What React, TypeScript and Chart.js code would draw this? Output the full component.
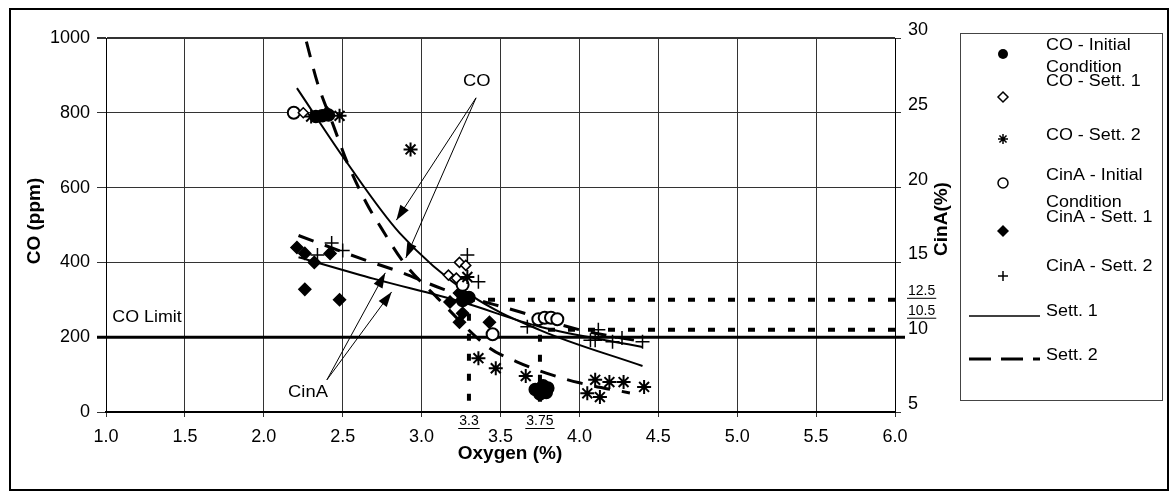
import React, { useEffect, useRef } from "react";
import { Chart, registerables } from "chart.js";

Chart.register(...registerables);

type P = [number, number];

// ---------- data (x = Oxygen %, y = CO ppm or CinA %) ----------
const coInitial: P[] = [[2.33, 790], [2.37, 792], [2.41, 794], [3.26, 298], [3.3, 306], [3.72, 60], [3.75, 48], [3.77, 70], [3.8, 64], [3.79, 52]];
const coSett1: P[] = [[2.25, 800], [3.17, 366], [3.22, 358], [3.24, 400], [3.28, 392]];
const coSett2: P[] = [[2.3, 790], [2.48, 792], [2.93, 702], [3.29, 361], [3.36, 144], [3.47, 117], [3.66, 96], [4.05, 50], [4.1, 86], [4.13, 40], [4.19, 80], [4.28, 80], [4.41, 67]];
const cinaInitial: P[] = [[2.19, 25.0], [3.26, 13.5], [3.45, 10.2], [3.74, 11.2], [3.78, 11.3], [3.82, 11.3], [3.86, 11.2]];
const cinaSett1: P[] = [[2.21, 16.0], [2.26, 15.6], [2.32, 15.0], [2.42, 15.6], [2.26, 13.2], [2.48, 12.5], [2.4, 25.0], [3.18, 12.35], [3.24, 12.95], [3.26, 11.6], [3.24, 11.0], [3.43, 11.0]];
const cinaSett2: P[] = [[2.34, 15.5], [2.43, 16.3], [2.5, 15.8], [3.29, 15.5], [3.36, 13.7], [3.67, 10.7], [4.07, 9.8], [4.1, 9.8], [4.12, 10.5], [4.21, 9.7], [4.27, 9.95], [4.4, 9.7]];

// trend curves
const coSett1Line: P[] = [[2.21, 866], [2.53, 665], [2.86, 479], [3.31, 313], [3.75, 219], [4.4, 123]];
const coSett2Line: P[] = [[2.27, 990], [2.34, 880], [2.44, 767], [2.53, 666], [2.65, 559], [2.74, 495], [2.89, 398], [3.1, 305], [3.43, 171], [3.6, 135], [3.79, 104], [4.0, 78], [4.32, 51]];
const cinaSett1Line: P[] = [[2.22, 15.35], [2.7, 13.9], [3.24, 12.4], [3.75, 10.7], [4.4, 9.35]];
const cinaSett2Line: P[] = [[2.22, 16.8], [2.63, 15.2], [2.88, 14.3], [3.14, 13.2], [3.62, 11.7], [4.0, 10.5], [4.4, 9.7]];

// reference guides
const coLimit = 200;
const guideOxygen = [3.3, 3.75];
const guideCinA = [12.5, 10.5];
const guideLabelsX = ["3.3", "3.75"];
const guideLabelsCinA = ["12.5", "10.5"];

// axes
const xMin = 1, xMax = 6, xStep = 0.5;
const coMin = 0, coMax = 1000, coStep = 200;
const cinaMin = 5, cinaMax = 30, cinaStep = 5;

// annotations (data coordinates)
const coNote = { text: "CO", at: [3.35, 885] as P, from: [3.345, 840] as P, tips: [[2.84, 513], [2.9, 412]] as P[] };
const cinaNote = { text: "CinA", at: [2.28, 53] as P, from: [2.4, 86] as P, tips: [[2.77, 372], [2.81, 321]] as P[] };
const coLimitNote = { text: "CO Limit", at: [1.04, 254] as P };

const legendItems = [
  { kind: "fcircle", lines: ["CO - Initial", "Condition"] },
  { kind: "odiamond", lines: ["CO - Sett. 1"] },
  { kind: "star", lines: ["CO - Sett. 2"] },
  { kind: "ocircle", lines: ["CinA - Initial", "Condition"] },
  { kind: "fdiamond", lines: ["CinA - Sett. 1"] },
  { kind: "plus", lines: ["CinA - Sett. 2"] },
  { kind: "solid", lines: ["Sett. 1"] },
  { kind: "dashed", lines: ["Sett. 2"] },
];

const FONT = '"Liberation Sans", Arial, sans-serif';
const pts = (a: P[]) => a.map(([x, y]) => ({ x, y }));

function arrow(ctx: CanvasRenderingContext2D, x0: number, y0: number, x1: number, y1: number) {
  ctx.beginPath();
  ctx.moveTo(x0, y0);
  ctx.lineTo(x1, y1);
  ctx.stroke();
  const a = Math.atan2(y1 - y0, x1 - x0);
  const len = 15, w = 5;
  const bx = x1 - len * Math.cos(a), by = y1 - len * Math.sin(a);
  ctx.beginPath();
  ctx.moveTo(x1, y1);
  ctx.lineTo(bx - w * Math.sin(a), by + w * Math.cos(a));
  ctx.lineTo(bx + w * Math.sin(a), by - w * Math.cos(a));
  ctx.closePath();
  ctx.fill();
}

function marker(ctx: CanvasRenderingContext2D, kind: string, x: number, y: number) {
  ctx.save();
  ctx.strokeStyle = "#000";
  ctx.fillStyle = "#000";
  ctx.lineWidth = 1.5;
  const r = 5;
  if (kind === "fcircle" || kind === "ocircle") {
    ctx.beginPath();
    ctx.arc(x, y, r, 0, Math.PI * 2);
    if (kind === "fcircle") ctx.fill(); else ctx.stroke();
  } else if (kind === "odiamond" || kind === "fdiamond") {
    const rr = kind === "fdiamond" ? 6 : 5;
    ctx.beginPath();
    ctx.moveTo(x, y - rr); ctx.lineTo(x + rr, y); ctx.lineTo(x, y + rr); ctx.lineTo(x - rr, y); ctx.closePath();
    if (kind === "fdiamond") ctx.fill(); else ctx.stroke();
  } else if (kind === "star") {
    ctx.beginPath();
    for (let i = 0; i < 4; i++) {
      const a = (i * Math.PI) / 4;
      ctx.moveTo(x - r * Math.cos(a), y - r * Math.sin(a));
      ctx.lineTo(x + r * Math.cos(a), y + r * Math.sin(a));
    }
    ctx.stroke();
  } else if (kind === "plus") {
    ctx.beginPath();
    ctx.moveTo(x - r, y); ctx.lineTo(x + r, y);
    ctx.moveTo(x, y - r); ctx.lineTo(x, y + r);
    ctx.stroke();
  }
  ctx.restore();
}

// text drawn slightly wider than tall, like the scanned original
function wideText(ctx: CanvasRenderingContext2D, s: string, x: number, y: number, sx: number) {
  ctx.save();
  ctx.translate(x, y);
  ctx.scale(sx, 1);
  ctx.fillText(s, 0, 0);
  ctx.restore();
}

const decor = {
  id: "decor",
  beforeDatasetsDraw(chart: any) {
    const { ctx, chartArea, scales } = chart;
    const yy = scales.y.getPixelForValue(coLimit);
    ctx.save();
    ctx.strokeStyle = "#000";
    ctx.lineWidth = 3;
    ctx.beginPath();
    ctx.moveTo(chartArea.left - 9, yy);
    ctx.lineTo(chartArea.right + 10, yy);
    ctx.stroke();
    ctx.restore();
  },
  afterDraw(chart: any) {
    const { ctx, chartArea, scales } = chart;
    const X = (v: number) => scales.x.getPixelForValue(v);
    const Y = (v: number) => scales.y.getPixelForValue(v);
    const Y1 = (v: number) => scales.y1.getPixelForValue(v);
    ctx.save();
    ctx.fillStyle = "#000";
    ctx.strokeStyle = "#000";

    // annotation texts & arrows
    ctx.font = `17px ${FONT}`;
    ctx.textAlign = "center";
    ctx.textBaseline = "middle";
    wideText(ctx, coNote.text, X(coNote.at[0]), Y(coNote.at[1]), 1.08);
    wideText(ctx, cinaNote.text, X(cinaNote.at[0]), Y(cinaNote.at[1]), 1.08);
    ctx.textAlign = "left";
    wideText(ctx, coLimitNote.text, X(coLimitNote.at[0]), Y(coLimitNote.at[1]), 1.05);
    ctx.lineWidth = 1;
    for (const t of coNote.tips) arrow(ctx, X(coNote.from[0]), Y(coNote.from[1]), X(t[0]), Y(t[1]));
    for (const t of cinaNote.tips) arrow(ctx, X(cinaNote.from[0]), Y(cinaNote.from[1]), X(t[0]), Y(t[1]));

    // underlined guide labels
    ctx.font = `14px ${FONT}`;
    ctx.textAlign = "center";
    guideLabelsX.forEach((s, i) => {
      const cx = X(guideOxygen[i]);
      const w = ctx.measureText(s).width;
      ctx.fillText(s, cx, chartArea.bottom + 9);
      ctx.fillRect(cx - w / 2 - 1, chartArea.bottom + 16, w + 2, 1);
    });
    ctx.textAlign = "left";
    const offs = [-9, -19];
    guideLabelsCinA.forEach((s, i) => {
      const cy = Y1(guideCinA[i]) + offs[i];
      const w = ctx.measureText(s).width;
      const lx = chartArea.right + 13;
      ctx.fillText(s, lx, cy);
      ctx.fillRect(lx - 1, cy + 7, w + 2, 1);
    });

    // axis titles
    ctx.font = `bold 19px ${FONT}`;
    ctx.textAlign = "center";
    ctx.fillText("Oxygen (%)", 510, 454);
    ctx.save();
    ctx.translate(35, 221);
    ctx.rotate(-Math.PI / 2);
    ctx.fillText("CO (ppm)", 0, 0);
    ctx.restore();
    ctx.save();
    ctx.translate(942, 219);
    ctx.rotate(-Math.PI / 2);
    ctx.fillText("CinA(%)", 0, 0);
    ctx.restore();

    // legend
    ctx.strokeStyle = "#444";
    ctx.lineWidth = 1;
    ctx.strokeRect(960.5, 33.5, 202, 367);
    const textY = [[46, 68], [82], [136], [176, 203], [218], [267], [312], [356]];
    const markY = [54, 97, 139, 183, 231, 276, 316, 359];
    ctx.font = `16px ${FONT}`;
    ctx.textAlign = "left";
    ctx.fillStyle = "#000";
    legendItems.forEach((it, i) => {
      it.lines.forEach((ln, j) => wideText(ctx, ln, 1046, textY[i][j], 1.12));
      const my = markY[i];
      if (it.kind === "solid" || it.kind === "dashed") {
        ctx.save();
        ctx.strokeStyle = "#000";
        ctx.lineWidth = it.kind === "solid" ? 1.5 : 3;
        if (it.kind === "dashed") ctx.setLineDash([22, 10]);
        ctx.beginPath();
        ctx.moveTo(969, my);
        ctx.lineTo(1040, my);
        ctx.stroke();
        ctx.restore();
      } else {
        marker(ctx, it.kind, 1003, my);
      }
    });

    // outer frame
    ctx.strokeStyle = "#000";
    ctx.lineWidth = 2;
    ctx.strokeRect(10, 9, 1158, 481);
    ctx.restore();
  },
};

export default function App() {
  const ref = useRef<HTMLCanvasElement | null>(null);

  useEffect(() => {
    if (!ref.current) return;
    Chart.defaults.font.family = FONT;
    Chart.defaults.font.size = 18;
    Chart.defaults.color = "#000";

    const markerBase = { showLine: false, borderColor: "#000", pointBorderWidth: 1.5 };
    const guideStyle = { showLine: true, pointRadius: 0, borderColor: "#000", borderWidth: 4, borderDash: [7, 13], tension: 0, yAxisID: "y1" };

    const chart = new Chart(ref.current, {
      type: "scatter",
      data: {
        datasets: [
          { ...markerBase, label: "CO - Initial Condition", data: pts(coInitial), yAxisID: "y", pointStyle: "circle", pointRadius: 6, backgroundColor: "#000" },
          { ...markerBase, label: "CO - Sett. 1", data: pts(coSett1), yAxisID: "y", pointStyle: "rectRot", pointRadius: 5, backgroundColor: "#fff" },
          { ...markerBase, label: "CO - Sett. 2", data: pts(coSett2), yAxisID: "y", pointStyle: "star", pointRadius: 7, pointBorderWidth: 2, backgroundColor: "#000" },
          { ...markerBase, label: "CinA - Initial Condition", data: pts(cinaInitial), yAxisID: "y1", pointStyle: "circle", pointRadius: 6, pointBorderWidth: 2, backgroundColor: "#fff" },
          { ...markerBase, label: "CinA - Sett. 1", data: pts(cinaSett1), yAxisID: "y1", pointStyle: "rectRot", pointRadius: 6, backgroundColor: "#000" },
          { ...markerBase, label: "CinA - Sett. 2", data: pts(cinaSett2), yAxisID: "y1", pointStyle: "cross", pointRadius: 7, backgroundColor: "#000" },
          { label: "CO Sett. 1", data: pts(coSett1Line), yAxisID: "y", showLine: true, pointRadius: 0, borderColor: "#000", borderWidth: 2, cubicInterpolationMode: "monotone" },
          { label: "CinA Sett. 1", data: pts(cinaSett1Line), yAxisID: "y1", showLine: true, pointRadius: 0, borderColor: "#000", borderWidth: 2, cubicInterpolationMode: "monotone" },
          { label: "CO Sett. 2", data: pts(coSett2Line), yAxisID: "y", showLine: true, pointRadius: 0, borderColor: "#000", borderWidth: 3, borderDash: [16, 12], cubicInterpolationMode: "monotone" },
          { label: "CinA Sett. 2", data: pts(cinaSett2Line), yAxisID: "y1", showLine: true, pointRadius: 0, borderColor: "#000", borderWidth: 3, borderDash: [16, 12], cubicInterpolationMode: "monotone" },
          { ...guideStyle, label: "guide 12.5", data: [{ x: xMax, y: guideCinA[0] }, { x: guideOxygen[0], y: guideCinA[0] }, { x: guideOxygen[0], y: cinaMin }] },
          { ...guideStyle, label: "guide 10.5", data: [{ x: xMax, y: guideCinA[1] }, { x: guideOxygen[1], y: guideCinA[1] }, { x: guideOxygen[1], y: cinaMin }] },
        ] as any,
      },
      options: {
        responsive: false,
        maintainAspectRatio: false,
        devicePixelRatio: 1,
        animation: false,
        events: [],
        layout: { padding: { top: 38, left: 0, right: 0, bottom: 0 } },
        plugins: { legend: { display: false }, tooltip: { enabled: false } },
        scales: {
          x: {
            type: "linear",
            min: xMin,
            max: xMax,
            afterFit: (s: any) => { s.height = 81; },
            ticks: { stepSize: xStep, padding: 9, maxRotation: 0, callback: (v: any) => Number(v).toFixed(1) },
            grid: { color: "#333", lineWidth: 1, tickLength: 5 },
            border: { color: "#000", width: 2 },
          },
          y: {
            type: "linear",
            position: "left",
            min: coMin,
            max: coMax,
            afterFit: (s: any) => { s.width = 106; },
            ticks: { stepSize: coStep, padding: 7, callback: (v: any) => String(v) },
            grid: { color: "#333", lineWidth: (c: any) => (c.tick && c.tick.value === coMax ? 2 : 1), tickLength: 9 },
            border: { color: "#000", width: 1 },
          },
          y1: {
            type: "linear",
            position: "right",
            min: cinaMin,
            max: cinaMax,
            afterFit: (s: any) => { s.width = 276; },
            ticks: { stepSize: cinaStep, padding: 7, labelOffset: -8, callback: (v: any) => String(v) },
            grid: { drawOnChartArea: false, color: "#333", tickLength: 6 },
            border: { color: "#000", width: 1 },
          },
        },
      } as any,
      plugins: [decor],
    });
    return () => chart.destroy();
  }, []);

  return (
    <div style={{ position: "fixed", left: 0, top: 0, width: 1171, height: 493, background: "#fff" }}>
      <canvas ref={ref} width={1171} height={493} style={{ display: "block" }} />
    </div>
  );
}
